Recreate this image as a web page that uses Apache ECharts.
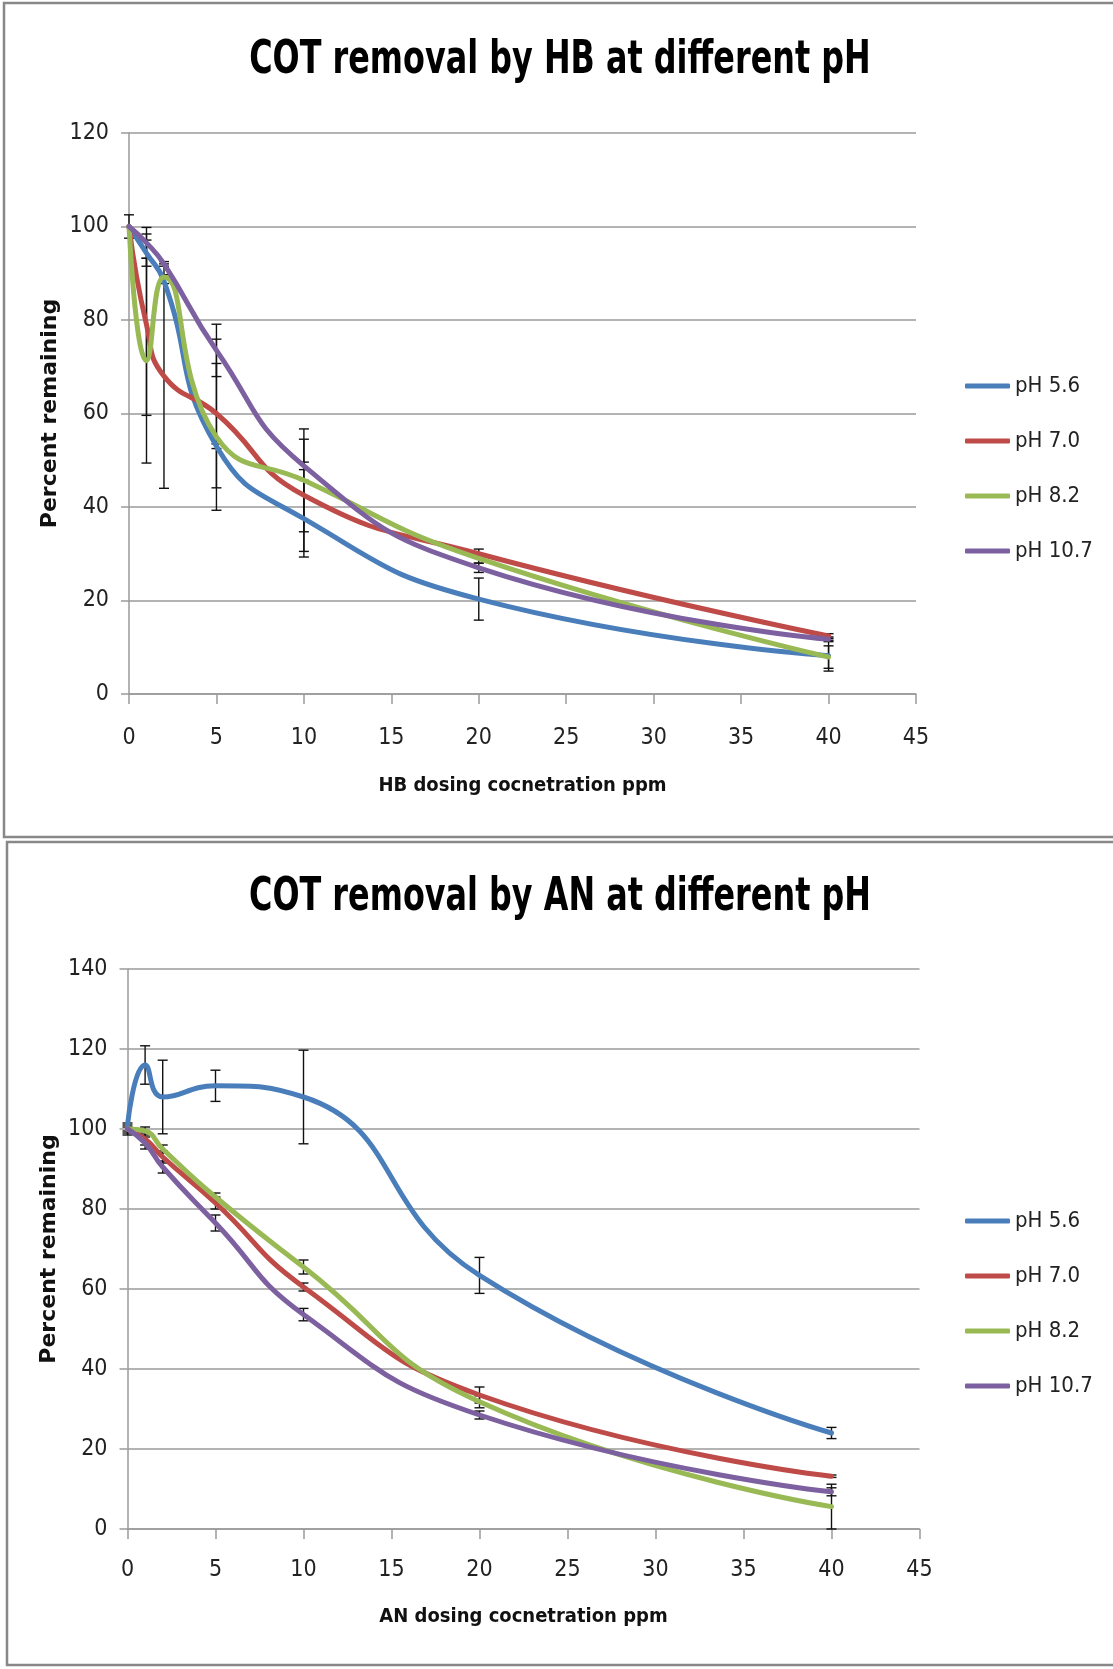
<!DOCTYPE html>
<html>
<head>
<meta charset="utf-8">
<script src="https://cdn.jsdelivr.net/npm/echarts@6/dist/echarts.min.js"></script>
<style>
html,body{margin:0;padding:0;background:#fff;}
#chart{width:1113px;height:1669px;}
</style>
</head>
<body>
<div id="chart"></div>
<script>
// ---- data ----
const doses = [0, 1, 2, 5, 10, 20, 40];
const seriesNames = ['pH 5.6', 'pH 7.0', 'pH 8.2', 'pH 10.7'];
const xTicks = [0, 5, 10, 15, 20, 25, 30, 35, 40, 45];

// HB chart (top)
const hb_pH56  = [100, 94.3, 88.3, 53.0, 37.5, 20.3, 8.2];
const hb_pH70  = [100, 79.0, 68.0, 60.0, 42.5, 30.0, 12.4];
const hb_pH82  = [100, 71.3, 89.2, 55.0, 45.7, 29.0, 7.9];
const hb_pH107 = [100, 96.5, 92.0, 73.5, 48.8, 27.0, 11.7];
const hb_err56  = [0.0, 2.8, 0.5, 0.5, 8.2, 4.5, 3.3];
const hb_err70  = [0.0, 19.4, 24.0, 15.9, 12.0, 1.0, 0.5];
const hb_err82  = [0.0, 21.9, 0.5, 15.7, 11.0, 1.0, 2.4];
const hb_err107 = [2.5, 3.3, 0.5, 5.6, 0.8, 1.0, 0.5];

// AN chart (bottom)
const an_pH56  = [101, 116.0, 108.0, 110.8, 108.0, 63.4, 24.0];
const an_pH70  = [100, 97.5, 93.0, 81.5, 60.5, 33.5, 13.2];
const an_pH82  = [100, 99.5, 95.0, 83.0, 65.5, 31.8, 5.6];
const an_pH107 = [100, 96.5, 90.5, 76.5, 53.6, 28.5, 9.3];
const an_err56  = [0.0, 4.8, 9.2, 3.9, 11.7, 4.5, 1.4];
const an_err70  = [1.5, 1.5, 1.5, 1.5, 1.0, 2.0, 0.3];
const an_err82  = [0.5, 1.0, 1.0, 1.0, 1.75, 1.5, 5.6];
const an_err107 = [1.0, 1.5, 1.5, 2.0, 1.55, 1.0, 1.0];

const titles = ['COT removal by HB at different pH', 'COT removal by AN at different pH'];
const xNames = ['HB dosing cocnetration ppm', 'AN dosing cocnetration ppm'];
const yName = 'Percent remaining';

// ---- styling ----
const colors = ['#4A7EBB', '#BE4B48', '#98B954', '#7D60A0'];
const narrow = "'Liberation Sans Narrow', 'DejaVu Sans Condensed', 'Liberation Sans', sans-serif";
const gridColor = '#9a9a9a';

function lineSeries(name, vals, idx, ci) {
  return {
    name: name, type: 'line', xAxisIndex: idx, yAxisIndex: idx,
    data: doses.map((x, i) => [x, vals[i]]),
    smooth: 0.5, showSymbol: false, symbol: 'none',
    lineStyle: { width: 5, color: colors[ci], cap: 'round' },
    itemStyle: { color: colors[ci] },
    z: 3
  };
}
function errSeries(vals, errs, idx) {
  const data = doses.map((x, i) => [x, vals[i] - errs[i], vals[i] + errs[i]]).filter((d, i) => errs[i] > 0);
  return {
    type: 'custom', xAxisIndex: idx, yAxisIndex: idx, silent: true, z: 2,
    data: data,
    encode: { x: 0, y: [1, 2] },
    renderItem: function (params, api) {
      const x = api.value(0);
      const lo = api.coord([x, api.value(1)]);
      const hi = api.coord([x, api.value(2)]);
      const w = 5;
      const st = { stroke: '#111', lineWidth: 1.4 };
      return {
        type: 'group',
        children: [
          { type: 'line', shape: { x1: lo[0], y1: lo[1], x2: hi[0], y2: hi[1] }, style: st },
          { type: 'line', shape: { x1: lo[0] - w, y1: lo[1], x2: lo[0] + w, y2: lo[1] }, style: st },
          { type: 'line', shape: { x1: hi[0] - w, y1: hi[1], x2: hi[0] + w, y2: hi[1] }, style: st }
        ]
      };
    }
  };
}

function xAxisCfg(idx, gap, lblMargin) {
  return {
    type: 'value', gridIndex: idx, min: 0, max: 45, interval: 5,
    name: xNames[idx], nameLocation: 'middle', nameGap: gap,
    nameTextStyle: { fontFamily: narrow, fontWeight: 'bold', fontSize: 20, color: '#111' },
    axisLine: { show: true, onZero: false, lineStyle: { color: gridColor, width: 1.5 } },
    axisTick: { show: true, length: 10, lineStyle: { color: gridColor, width: 1.5 } },
    axisLabel: { margin: lblMargin, fontFamily: narrow, fontSize: 23, color: '#222',
      formatter: v => (xTicks.indexOf(v) >= 0 ? String(v) : '') },
    splitLine: { show: false }
  };
}
function yAxisCfg(idx, max, interval, gap) {
  return {
    type: 'value', gridIndex: idx, min: 0, max: max, interval: interval,
    name: yName, nameLocation: 'middle', nameGap: gap, nameRotate: 90, nameMoveOverlap: false,
    nameTextStyle: { fontFamily: "'DejaVu Sans', sans-serif", fontWeight: 'bold', fontSize: 22, color: '#111' },
    axisLine: { show: true, lineStyle: { color: gridColor, width: 1.5 } },
    axisTick: { show: true, length: 8, lineStyle: { color: gridColor, width: 1.5 } },
    axisLabel: { margin: 20, fontFamily: narrow, fontSize: 23, color: '#222' },
    splitLine: { show: true, lineStyle: { color: gridColor, width: 1.5 } }
  };
}
function legendCfg(top) {
  return {
    orient: 'vertical', left: 960, top: top, itemGap: 33,
    itemWidth: 45, itemHeight: 5, icon: 'roundRect',
    data: seriesNames,
    textStyle: { fontFamily: narrow, fontSize: 22, color: '#222' }
  };
}
function titleText(text, cy) {
  return {
    type: 'text', x: 560, y: cy, scaleX: 0.77, z: 50,
    style: { text: text, font: "bold 46px 'DejaVu Sans Condensed', 'DejaVu Sans', sans-serif",
      fill: '#000', textAlign: 'center', textVerticalAlign: 'middle' }
  };
}

const chart = echarts.init(document.getElementById('chart'), null, { renderer: 'canvas' });
const option = {
  backgroundColor: '#ffffff',
  animation: false,
  color: colors,
  graphic: [
    { type: 'rect', shape: { x: 4, y: 3, width: 1130, height: 834 },
      style: { fill: 'none', stroke: '#888', lineWidth: 2.5 }, z: 100 },
    { type: 'rect', shape: { x: 7, y: 842, width: 1130, height: 823 },
      style: { fill: 'none', stroke: '#888', lineWidth: 2.5 }, z: 100 },
    titleText(titles[0], 61),
    titleText(titles[1], 898)
  ],
  grid: [
    { left: 129, top: 133, width: 787, height: 561 },
    { left: 127.5, top: 969, width: 792, height: 560 }
  ],
  xAxis: [xAxisCfg(0, 82, 33), xAxisCfg(1, 78, 30)],
  yAxis: [yAxisCfg(0, 120, 20, 68), yAxisCfg(1, 140, 20, 67)],
  legend: [legendCfg(370), legendCfg(1205)],
  series: [
    errSeries(hb_pH56, hb_err56, 0),
    errSeries(hb_pH70, hb_err70, 0),
    errSeries(hb_pH82, hb_err82, 0),
    errSeries(hb_pH107, hb_err107, 0),
    lineSeries(seriesNames[0], hb_pH56, 0, 0),
    lineSeries(seriesNames[1], hb_pH70, 0, 1),
    lineSeries(seriesNames[2], hb_pH82, 0, 2),
    lineSeries(seriesNames[3], hb_pH107, 0, 3),
    errSeries(an_pH56, an_err56, 1),
    errSeries(an_pH70, an_err70, 1),
    errSeries(an_pH82, an_err82, 1),
    errSeries(an_pH107, an_err107, 1),
    lineSeries(seriesNames[0], an_pH56, 1, 0),
    lineSeries(seriesNames[1], an_pH70, 1, 1),
    lineSeries(seriesNames[2], an_pH82, 1, 2),
    lineSeries(seriesNames[3], an_pH107, 1, 3)
  ]
};
chart.setOption(option);
</script>
</body>
</html>
